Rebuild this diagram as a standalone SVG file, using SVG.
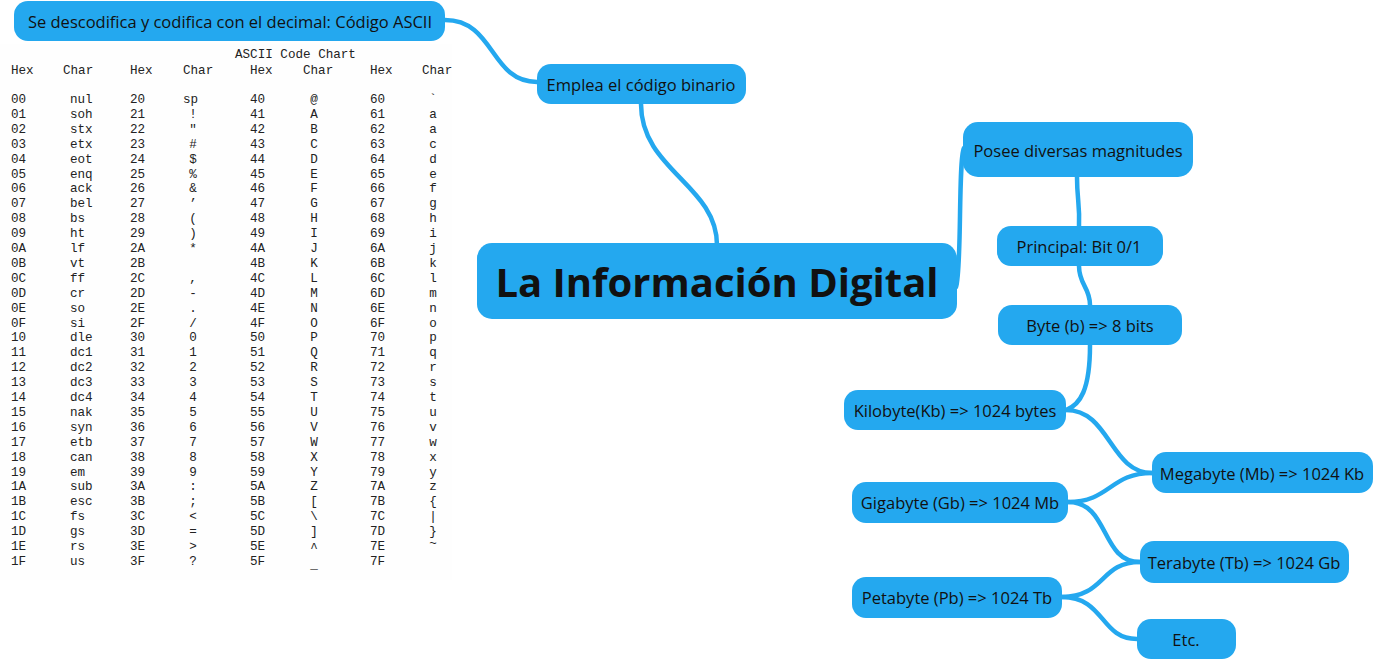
<svg xmlns="http://www.w3.org/2000/svg" width="1375" height="660" viewBox="0 0 1375 660">
<style>
.n{fill:#24a8ef}
.t{font-family:"Open Sans","Noto Sans",sans-serif;font-size:16.5px;fill:#111;text-anchor:middle;dominant-baseline:central}
.tt{font-family:"Open Sans","Noto Sans",sans-serif;font-size:40px;font-weight:bold;fill:#111;text-anchor:middle;dominant-baseline:central}
.c path{fill:none;stroke:#24a8ef;stroke-width:4.5;stroke-linecap:round}
.a{font-family:"Liberation Mono","Courier New",monospace;font-size:12.6px;fill:#222}
.m{text-anchor:middle}
</style>
<rect width="1375" height="660" fill="#fff"/>
<g id="ascii-chart">
<rect x="0" y="44" width="452" height="536" fill="#fefefe"/>
<text class="a" x="235" y="58">ASCII Code Chart</text>
<text class="a" y="74"><tspan x="11">Hex</tspan><tspan x="63">Char</tspan><tspan x="130">Hex</tspan><tspan x="183">Char</tspan><tspan x="250">Hex</tspan><tspan x="303">Char</tspan><tspan x="370">Hex</tspan><tspan x="422">Char</tspan></text>
<g id="col1">
<text class="a" x="11" y="103">00</text><text class="a" x="11" y="117.9">01</text><text class="a" x="11" y="132.8">02</text><text class="a" x="11" y="147.7">03</text><text class="a" x="11" y="162.6">04</text><text class="a" x="11" y="177.5">05</text><text class="a" x="11" y="192.4">06</text><text class="a" x="11" y="207.3">07</text><text class="a" x="11" y="222.2">08</text><text class="a" x="11" y="237.1">09</text><text class="a" x="11" y="252">0A</text><text class="a" x="11" y="266.9">0B</text><text class="a" x="11" y="281.8">0C</text><text class="a" x="11" y="296.7">0D</text><text class="a" x="11" y="311.6">0E</text><text class="a" x="11" y="326.5">0F</text><text class="a" x="11" y="341.4">10</text><text class="a" x="11" y="356.3">11</text><text class="a" x="11" y="371.2">12</text><text class="a" x="11" y="386.1">13</text><text class="a" x="11" y="401">14</text><text class="a" x="11" y="415.9">15</text><text class="a" x="11" y="430.8">16</text><text class="a" x="11" y="445.7">17</text><text class="a" x="11" y="460.6">18</text><text class="a" x="11" y="475.5">19</text><text class="a" x="11" y="490.4">1A</text><text class="a" x="11" y="505.3">1B</text><text class="a" x="11" y="520.2">1C</text><text class="a" x="11" y="535.1">1D</text><text class="a" x="11" y="550">1E</text><text class="a" x="11" y="564.9">1F</text>
</g>
<g id="col2">
<text class="a" x="70" y="103">nul</text><text class="a" x="70" y="117.9">soh</text><text class="a" x="70" y="132.8">stx</text><text class="a" x="70" y="147.7">etx</text><text class="a" x="70" y="162.6">eot</text><text class="a" x="70" y="177.5">enq</text><text class="a" x="70" y="192.4">ack</text><text class="a" x="70" y="207.3">bel</text><text class="a" x="70" y="222.2">bs</text><text class="a" x="70" y="237.1">ht</text><text class="a" x="70" y="252">lf</text><text class="a" x="70" y="266.9">vt</text><text class="a" x="70" y="281.8">ff</text><text class="a" x="70" y="296.7">cr</text><text class="a" x="70" y="311.6">so</text><text class="a" x="70" y="326.5">si</text><text class="a" x="70" y="341.4">dle</text><text class="a" x="70" y="356.3">dc1</text><text class="a" x="70" y="371.2">dc2</text><text class="a" x="70" y="386.1">dc3</text><text class="a" x="70" y="401">dc4</text><text class="a" x="70" y="415.9">nak</text><text class="a" x="70" y="430.8">syn</text><text class="a" x="70" y="445.7">etb</text><text class="a" x="70" y="460.6">can</text><text class="a" x="70" y="475.5">em</text><text class="a" x="70" y="490.4">sub</text><text class="a" x="70" y="505.3">esc</text><text class="a" x="70" y="520.2">fs</text><text class="a" x="70" y="535.1">gs</text><text class="a" x="70" y="550">rs</text><text class="a" x="70" y="564.9">us</text>
</g>
<g id="col3">
<text class="a" x="130" y="103">20</text><text class="a" x="130" y="117.9">21</text><text class="a" x="130" y="132.8">22</text><text class="a" x="130" y="147.7">23</text><text class="a" x="130" y="162.6">24</text><text class="a" x="130" y="177.5">25</text><text class="a" x="130" y="192.4">26</text><text class="a" x="130" y="207.3">27</text><text class="a" x="130" y="222.2">28</text><text class="a" x="130" y="237.1">29</text><text class="a" x="130" y="252">2A</text><text class="a" x="130" y="266.9">2B</text><text class="a" x="130" y="281.8">2C</text><text class="a" x="130" y="296.7">2D</text><text class="a" x="130" y="311.6">2E</text><text class="a" x="130" y="326.5">2F</text><text class="a" x="130" y="341.4">30</text><text class="a" x="130" y="356.3">31</text><text class="a" x="130" y="371.2">32</text><text class="a" x="130" y="386.1">33</text><text class="a" x="130" y="401">34</text><text class="a" x="130" y="415.9">35</text><text class="a" x="130" y="430.8">36</text><text class="a" x="130" y="445.7">37</text><text class="a" x="130" y="460.6">38</text><text class="a" x="130" y="475.5">39</text><text class="a" x="130" y="490.4">3A</text><text class="a" x="130" y="505.3">3B</text><text class="a" x="130" y="520.2">3C</text><text class="a" x="130" y="535.1">3D</text><text class="a" x="130" y="550">3E</text><text class="a" x="130" y="564.9">3F</text>
</g>
<g id="col4">
<text class="a" x="183" y="103">sp</text><text class="a m" x="193" y="117.9">!</text><text class="a m" x="193" y="132.8">"</text><text class="a m" x="193" y="147.7">#</text><text class="a m" x="193" y="162.6">$</text><text class="a m" x="193" y="177.5">%</text><text class="a m" x="193" y="192.4">&amp;</text><text class="a m" x="193" y="207.3">’</text><text class="a m" x="193" y="222.2">(</text><text class="a m" x="193" y="237.1">)</text><text class="a m" x="193" y="252">*</text><text class="a m" x="193" y="281.8">,</text><text class="a m" x="193" y="296.7">-</text><text class="a m" x="193" y="311.6">.</text><text class="a m" x="193" y="326.5">/</text><text class="a m" x="193" y="341.4">0</text><text class="a m" x="193" y="356.3">1</text><text class="a m" x="193" y="371.2">2</text><text class="a m" x="193" y="386.1">3</text><text class="a m" x="193" y="401">4</text><text class="a m" x="193" y="415.9">5</text><text class="a m" x="193" y="430.8">6</text><text class="a m" x="193" y="445.7">7</text><text class="a m" x="193" y="460.6">8</text><text class="a m" x="193" y="475.5">9</text><text class="a m" x="193" y="490.4">:</text><text class="a m" x="193" y="505.3">;</text><text class="a m" x="193" y="520.2">&lt;</text><text class="a m" x="193" y="535.1">=</text><text class="a m" x="193" y="550">&gt;</text><text class="a m" x="193" y="564.9">?</text>
</g>
<g id="col5">
<text class="a" x="250" y="103">40</text><text class="a" x="250" y="117.9">41</text><text class="a" x="250" y="132.8">42</text><text class="a" x="250" y="147.7">43</text><text class="a" x="250" y="162.6">44</text><text class="a" x="250" y="177.5">45</text><text class="a" x="250" y="192.4">46</text><text class="a" x="250" y="207.3">47</text><text class="a" x="250" y="222.2">48</text><text class="a" x="250" y="237.1">49</text><text class="a" x="250" y="252">4A</text><text class="a" x="250" y="266.9">4B</text><text class="a" x="250" y="281.8">4C</text><text class="a" x="250" y="296.7">4D</text><text class="a" x="250" y="311.6">4E</text><text class="a" x="250" y="326.5">4F</text><text class="a" x="250" y="341.4">50</text><text class="a" x="250" y="356.3">51</text><text class="a" x="250" y="371.2">52</text><text class="a" x="250" y="386.1">53</text><text class="a" x="250" y="401">54</text><text class="a" x="250" y="415.9">55</text><text class="a" x="250" y="430.8">56</text><text class="a" x="250" y="445.7">57</text><text class="a" x="250" y="460.6">58</text><text class="a" x="250" y="475.5">59</text><text class="a" x="250" y="490.4">5A</text><text class="a" x="250" y="505.3">5B</text><text class="a" x="250" y="520.2">5C</text><text class="a" x="250" y="535.1">5D</text><text class="a" x="250" y="550">5E</text><text class="a" x="250" y="564.9">5F</text>
</g>
<g id="col6">
<text class="a m" x="314" y="103">@</text><text class="a m" x="314" y="117.9">A</text><text class="a m" x="314" y="132.8">B</text><text class="a m" x="314" y="147.7">C</text><text class="a m" x="314" y="162.6">D</text><text class="a m" x="314" y="177.5">E</text><text class="a m" x="314" y="192.4">F</text><text class="a m" x="314" y="207.3">G</text><text class="a m" x="314" y="222.2">H</text><text class="a m" x="314" y="237.1">I</text><text class="a m" x="314" y="252">J</text><text class="a m" x="314" y="266.9">K</text><text class="a m" x="314" y="281.8">L</text><text class="a m" x="314" y="296.7">M</text><text class="a m" x="314" y="311.6">N</text><text class="a m" x="314" y="326.5">O</text><text class="a m" x="314" y="341.4">P</text><text class="a m" x="314" y="356.3">Q</text><text class="a m" x="314" y="371.2">R</text><text class="a m" x="314" y="386.1">S</text><text class="a m" x="314" y="401">T</text><text class="a m" x="314" y="415.9">U</text><text class="a m" x="314" y="430.8">V</text><text class="a m" x="314" y="445.7">W</text><text class="a m" x="314" y="460.6">X</text><text class="a m" x="314" y="475.5">Y</text><text class="a m" x="314" y="490.4">Z</text><text class="a m" x="314" y="505.3">[</text><text class="a m" x="314" y="520.2">\</text><text class="a m" x="314" y="535.1">]</text><text class="a m" x="314" y="552">^</text><text class="a m" x="314" y="568">_</text>
</g>
<g id="col7">
<text class="a" x="370" y="103">60</text><text class="a" x="370" y="117.9">61</text><text class="a" x="370" y="132.8">62</text><text class="a" x="370" y="147.7">63</text><text class="a" x="370" y="162.6">64</text><text class="a" x="370" y="177.5">65</text><text class="a" x="370" y="192.4">66</text><text class="a" x="370" y="207.3">67</text><text class="a" x="370" y="222.2">68</text><text class="a" x="370" y="237.1">69</text><text class="a" x="370" y="252">6A</text><text class="a" x="370" y="266.9">6B</text><text class="a" x="370" y="281.8">6C</text><text class="a" x="370" y="296.7">6D</text><text class="a" x="370" y="311.6">6E</text><text class="a" x="370" y="326.5">6F</text><text class="a" x="370" y="341.4">70</text><text class="a" x="370" y="356.3">71</text><text class="a" x="370" y="371.2">72</text><text class="a" x="370" y="386.1">73</text><text class="a" x="370" y="401">74</text><text class="a" x="370" y="415.9">75</text><text class="a" x="370" y="430.8">76</text><text class="a" x="370" y="445.7">77</text><text class="a" x="370" y="460.6">78</text><text class="a" x="370" y="475.5">79</text><text class="a" x="370" y="490.4">7A</text><text class="a" x="370" y="505.3">7B</text><text class="a" x="370" y="520.2">7C</text><text class="a" x="370" y="535.1">7D</text><text class="a" x="370" y="550">7E</text><text class="a" x="370" y="564.9">7F</text>
</g>
<g id="col8">
<text class="a m" x="433" y="103">`</text><text class="a m" x="433" y="117.9">a</text><text class="a m" x="433" y="132.8">a</text><text class="a m" x="433" y="147.7">c</text><text class="a m" x="433" y="162.6">d</text><text class="a m" x="433" y="177.5">e</text><text class="a m" x="433" y="192.4">f</text><text class="a m" x="433" y="207.3">g</text><text class="a m" x="433" y="222.2">h</text><text class="a m" x="433" y="237.1">i</text><text class="a m" x="433" y="252">j</text><text class="a m" x="433" y="266.9">k</text><text class="a m" x="433" y="281.8">l</text><text class="a m" x="433" y="296.7">m</text><text class="a m" x="433" y="311.6">n</text><text class="a m" x="433" y="326.5">o</text><text class="a m" x="433" y="341.4">p</text><text class="a m" x="433" y="356.3">q</text><text class="a m" x="433" y="371.2">r</text><text class="a m" x="433" y="386.1">s</text><text class="a m" x="433" y="401">t</text><text class="a m" x="433" y="415.9">u</text><text class="a m" x="433" y="430.8">v</text><text class="a m" x="433" y="445.7">w</text><text class="a m" x="433" y="460.6">x</text><text class="a m" x="433" y="475.5">y</text><text class="a m" x="433" y="490.4">z</text><text class="a m" x="433" y="505.3">{</text><text class="a m" x="433" y="520.2">|</text><text class="a m" x="433" y="535.1">}</text><text class="a m" x="433" y="547">~</text>
</g>
</g>
<g id="connectors" class="c">
<path d="M717,245 C717,185 641,170 641,104"/>
<path d="M537,82 C490,82 495,20 445,20"/>
<path d="M956,287 C962,270 958,160 964,148"/>
<path d="M1077,177 C1077,200 1080,205 1079,226"/>
<path d="M1079,266 C1079,285 1090,287 1090,305"/>
<path d="M1090,345 C1090,390 1080,405 1066,410"/>
<path d="M1066,410 C1110,410 1110,473 1152,473"/>
<path d="M1068,502 C1110,502 1110,473 1152,473"/>
<path d="M1068,502 C1110,502 1100,562 1140,562"/>
<path d="M1062,597 C1105,597 1100,562 1140,562"/>
<path d="M1062,597 C1105,597 1100,639 1137,639"/>
</g>
<g id="node-ascii"><rect class="n" x="14" y="1" width="431" height="40" rx="14"/><text class="t" x="230" y="21">Se descodifica y codifica con el decimal: Código ASCII</text></g>
<g id="node-binario"><rect class="n" x="537" y="64" width="209" height="40" rx="14"/><text class="t" x="641" y="84">Emplea el código binario</text></g>
<g id="node-root"><rect class="n" x="477" y="243" width="480" height="76" rx="15"/><text class="tt" x="717" y="281">La Información Digital</text></g>
<g id="node-magnitudes"><rect class="n" x="963" y="122" width="230" height="55" rx="15"/><text class="t" x="1078" y="150">Posee diversas magnitudes</text></g>
<g id="node-bit"><rect class="n" x="997" y="226" width="166" height="40" rx="14"/><text class="t" x="1079" y="246">Principal: Bit 0/1</text></g>
<g id="node-byte"><rect class="n" x="998" y="305" width="184" height="40" rx="14"/><text class="t" x="1090" y="325">Byte (b) =&gt; 8 bits</text></g>
<g id="node-kb"><rect class="n" x="844" y="390" width="222" height="40" rx="14"/><text class="t" x="955" y="410">Kilobyte(Kb) =&gt; 1024 bytes</text></g>
<g id="node-mb"><rect class="n" x="1152" y="452" width="221" height="41" rx="14"/><text class="t" x="1262" y="473">Megabyte (Mb) =&gt; 1024 Kb</text></g>
<g id="node-gb"><rect class="n" x="852" y="482" width="216" height="41" rx="14"/><text class="t" x="960" y="502">Gigabyte (Gb) =&gt; 1024 Mb</text></g>
<g id="node-tb"><rect class="n" x="1140" y="541" width="209" height="42" rx="14"/><text class="t" x="1244" y="562">Terabyte (Tb) =&gt; 1024 Gb</text></g>
<g id="node-pb"><rect class="n" x="852" y="577" width="210" height="41" rx="14"/><text class="t" x="957" y="597">Petabyte (Pb) =&gt; 1024 Tb</text></g>
<g id="node-etc"><rect class="n" x="1137" y="619" width="99" height="40" rx="14"/><text class="t" x="1186" y="639">Etc.</text></g>
</svg>
